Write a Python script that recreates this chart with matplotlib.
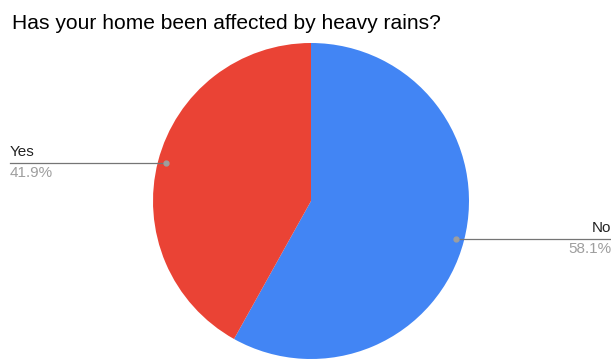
import numpy as np
import matplotlib.pyplot as plt

plt.rcParams['font.family'] = ['Liberation Sans', 'DejaVu Sans']

# survey answers
labels = ['No', 'Yes']
shares = [58.1, 41.9]
colors = ['#4285F4', '#EA4335']
title = 'Has your home been affected by heavy rains?'

W, H = 611, 360
fig = plt.figure(figsize=(W / 100, H / 100), dpi=100)
ax = fig.add_axes([0, 0, 1, 1])

cx, cy, r = 311, H - 201, 158
ax.pie(shares, colors=colors, startangle=90, counterclock=False,
       center=(cx, cy), radius=r, wedgeprops=dict(linewidth=0))
ax.set_xlim(0, W)
ax.set_ylim(0, H)
ax.set_aspect('equal')
ax.axis('off')

# leader lines with label and percentage
total = sum(shares)
start = 0.0
for lab, val in zip(labels, shares):
    mid = (start + val / 2) / total * 2 * np.pi   # clockwise from top
    start += val
    dx, dy = np.sin(mid), np.cos(mid)
    px, py = cx + 0.95 * r * dx, cy + 0.95 * r * dy
    if dx < 0:
        x_end, ha = 10, 'left'
    else:
        x_end, ha = W, 'right'
    ax.plot([px, x_end], [py, py], color='#757575', lw=0.9, zorder=3)
    ax.plot(px, py, 'o', ms=3.5, color='#9e9e9e', zorder=4)
    ax.text(x_end, py + 4, lab, ha=ha, va='bottom', fontsize=11, color='#222222')
    ax.text(x_end, py - 3, f'{val}%', ha=ha, va='top', fontsize=11, color='#9e9e9e')

ax.text(12, H - 29, title, ha='left', va='baseline', fontsize=15.1, color='#000000')

fig.savefig('out.png', dpi=100)
